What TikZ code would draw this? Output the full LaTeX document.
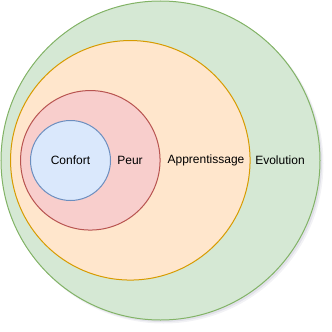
\documentclass[tikz,border=0pt]{standalone}
\usepackage{fontspec}
\setmainfont{Liberation Sans}
\begin{document}
\begin{tikzpicture}[x=1pt,y=-1pt,
  zone/.style={circle,draw,line width=1pt,inner sep=0pt},
  lbl/.style={font=\fontsize{12}{14}\selectfont,inner sep=0pt,text=black}]
\useasboundingbox (0,0) rectangle (332,332);
\definecolor{gfill}{HTML}{D5E8D4}\definecolor{gdraw}{HTML}{82B366}
\definecolor{ofill}{HTML}{FFE6CC}\definecolor{odraw}{HTML}{D79B00}
\definecolor{rfill}{HTML}{F8CECC}\definecolor{rdraw}{HTML}{B85450}
\definecolor{bfill}{HTML}{DAE8FC}\definecolor{bdraw}{HTML}{6C8EBF}
\definecolor{shad}{HTML}{8080A0}
% shadow
\fill[shad,opacity=0.10] (163.5,163.5) circle[radius=160];
\fill[shad,opacity=0.15] (162.5,162.5) circle[radius=159.5];
\node[zone,fill=gfill,draw=gdraw,minimum size=319pt] (evo) at (160.5,160.5) {};
\node[zone,fill=ofill,draw=odraw,minimum size=239.5pt] (app) at (130.3,160.3) {};
\node[zone,fill=rfill,draw=rdraw,minimum size=139.5pt] (peur) at (90.3,160.3) {};
\node[zone,fill=bfill,draw=bdraw,minimum size=80pt] (conf) at (70.5,160.5) {};
\node[lbl] (tconf) at (conf.center) {Confort};
\node[lbl] (tpeur) at (130,160.5) {Peur};
\node[lbl] (tapp) at (206,160.5) {Apprentissage};
\node[lbl] (tevo) at (280,160.5) {Evolution};
\end{tikzpicture}
\end{document}
